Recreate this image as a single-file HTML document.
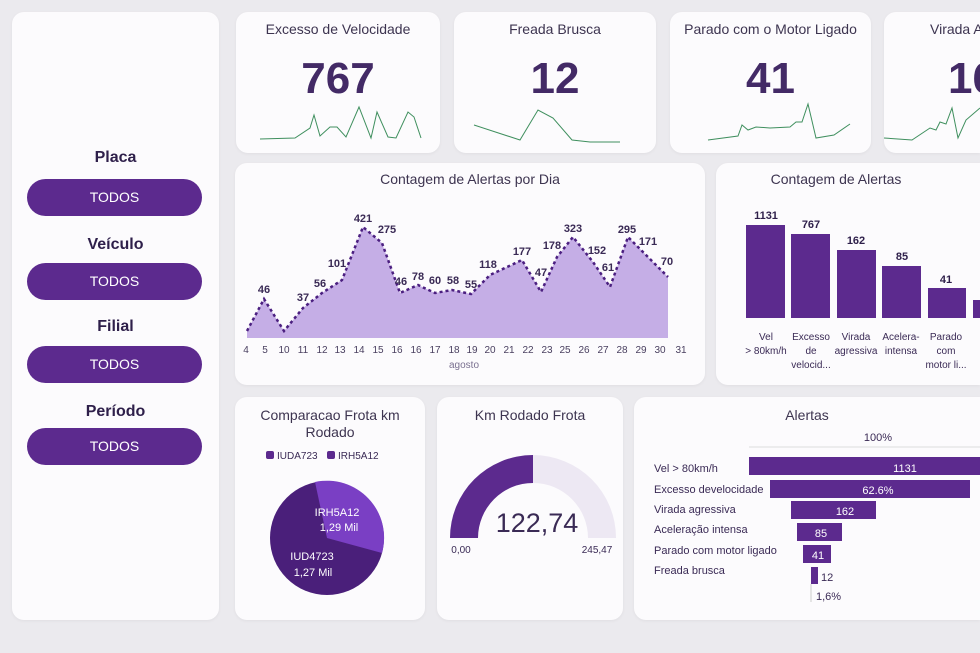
<!DOCTYPE html>
<html><head><meta charset="utf-8"><style>
*{margin:0;padding:0;box-sizing:border-box}
html,body{width:980px;height:653px;overflow:hidden}
body{background:#ebeaee;font-family:"Liberation Sans",sans-serif;position:relative;color:#3a2a55}
.c{position:absolute;background:#fcfbfd;border-radius:12px;box-shadow:0 1px 3px rgba(0,0,0,.05);overflow:hidden}
.t{position:absolute;font-size:14px;color:#3d3450;text-align:center;width:100%;white-space:nowrap}
.big{position:absolute;width:100%;text-align:center;font-size:44px;font-weight:bold;color:#432a66;top:42px;white-space:nowrap}
.lbl{position:absolute;left:0;width:231px;text-align:center;font-size:16px;font-weight:bold;color:#2e1f4a}
.btn{position:absolute;left:27px;width:175px;height:37px;border-radius:19px;background:#5c2a8e;color:#fff;font-size:14px;text-align:center;line-height:37px}
svg{position:absolute;left:0;top:0}
</style></head><body>
<div class="c" style="left:12px;top:12px;width:207px;height:608px"></div>
<div class="lbl" style="top:149px">Placa</div><div class="btn" style="top:179px">TODOS</div>
<div class="lbl" style="top:236px">Veículo</div><div class="btn" style="top:263px">TODOS</div>
<div class="lbl" style="top:318px">Filial</div><div class="btn" style="top:346px">TODOS</div>
<div class="lbl" style="top:403px">Período</div><div class="btn" style="top:428px">TODOS</div>

<div class="c" style="left:236px;top:12px;width:204px;height:141px"><div class="t" style="top:9px">Excesso de Velocidade</div><div class="big">767</div></div>
<div class="c" style="left:454px;top:12px;width:202px;height:141px"><div class="t" style="top:9px">Freada Brusca</div><div class="big">12</div></div>
<div class="c" style="left:670px;top:12px;width:201px;height:141px"><div class="t" style="top:9px">Parado com o Motor Ligado</div><div class="big">41</div></div>
<div class="c" style="left:884px;top:12px;width:96px;height:141px;border-radius:12px 0 0 12px"><div class="t" style="top:9px;text-align:left;left:46px">Virada Agressiva</div><div class="big" style="text-align:left;left:64px">162</div></div>

<div class="c" style="left:235px;top:163px;width:470px;height:222px"><div class="t" style="top:8px">Contagem de Alertas por Dia</div></div>
<div class="c" style="left:716px;top:163px;width:264px;height:222px;border-radius:12px 0 0 12px"><div class="t" style="top:8px;width:240px">Contagem de Alertas</div></div>
<div class="c" style="left:235px;top:397px;width:190px;height:223px"><div class="t" style="top:10px;line-height:17px">Comparacao Frota km<br>Rodado</div></div>
<div class="c" style="left:437px;top:397px;width:186px;height:223px"><div class="t" style="top:10px">Km Rodado Frota</div></div>
<div class="c" style="left:634px;top:397px;width:346px;height:223px;border-radius:12px 0 0 12px"><div class="t" style="top:10px;width:346px">Alertas</div></div>

<svg width="980" height="653" font-family="Liberation Sans, sans-serif">
<g fill="none" stroke="#3f8f5e" stroke-width="1">
<polyline points="260,139 295,138 310,128 314,115 320,136 330,127 337,127 346,137 359,107 371,138 377,112 388,137 396,138 408,112 414,117 421,138"/>
<polyline points="474,125 520,140 538,110 553,118 572,140 590,142 620,142"/>
<polyline points="708,140 738,136 742,125 748,130 756,127 770,128 790,127 796,122 802,122 808,104 816,138 834,135 850,124"/>
<polyline points="884,138 912,140 930,128 936,130 940,122 946,124 952,108 958,138 966,120 980,108"/>
</g>
<polygon fill="#c5aee6" points="247,338 247,331 264,299 284,331 303,308 322,293 342,280 363,227 382,243 400,293 418,285 435,293 452,290 471,294 490,275 522,260 541,292 557,257 573,237 593,262 610,287 628,237 648,257 668,277 668,338"/>
<polyline fill="none" stroke="#4b1f80" stroke-width="2.5" stroke-dasharray="3,3" points="247,331 264,299 284,331 303,308 322,293 342,280 363,227 382,243 400,293 418,285 435,293 452,290 471,294 490,275 522,260 541,292 557,257 573,237 593,262 610,287 628,237 648,257 668,277"/>
<g font-size="11" font-weight="bold" fill="#3a2a55" text-anchor="middle">
<text x="264" y="293">46</text><text x="303" y="301">37</text><text x="320" y="287">56</text><text x="337" y="267">101</text><text x="363" y="222">421</text><text x="387" y="233">275</text><text x="401" y="285">46</text><text x="418" y="280">78</text><text x="435" y="284">60</text><text x="453" y="284">58</text><text x="471" y="288">55</text><text x="488" y="268">118</text><text x="522" y="255">177</text><text x="541" y="276">47</text><text x="552" y="249">178</text><text x="573" y="232">323</text><text x="597" y="254">152</text><text x="608" y="271">61</text><text x="627" y="233">295</text><text x="648" y="245">171</text><text x="667" y="265">70</text></g>
<g font-size="10" fill="#4a4060" text-anchor="middle">
<text x="246" y="353">4</text><text x="265" y="353">5</text><text x="284" y="353">10</text><text x="303" y="353">11</text><text x="322" y="353">12</text><text x="340" y="353">13</text><text x="359" y="353">14</text><text x="378" y="353">15</text><text x="397" y="353">16</text><text x="416" y="353">16</text><text x="435" y="353">17</text><text x="454" y="353">18</text><text x="472" y="353">19</text><text x="490" y="353">20</text><text x="509" y="353">21</text><text x="528" y="353">22</text><text x="547" y="353">23</text><text x="565" y="353">25</text><text x="584" y="353">26</text><text x="603" y="353">27</text><text x="622" y="353">28</text><text x="641" y="353">29</text><text x="660" y="353">30</text><text x="681" y="353">31</text>
<text x="464" y="368" fill="#7a7090">agosto</text></g>

<g fill="#5c2a8e"><rect x="746" y="225" width="39" height="93"/><rect x="791" y="234" width="39" height="84"/><rect x="837" y="250" width="39" height="68"/><rect x="882" y="266" width="39" height="52"/><rect x="928" y="288" width="38" height="30"/><rect x="973" y="300" width="7" height="18"/></g>
<g font-size="11" font-weight="bold" fill="#2e1f4a" text-anchor="middle"><text x="766" y="219">1131</text><text x="811" y="228">767</text><text x="856" y="244">162</text><text x="902" y="260">85</text><text x="946" y="283">41</text></g>
<g font-size="10" fill="#3a2a55" text-anchor="middle">
<text x="766" y="340">Vel</text><text x="766" y="354">&gt; 80km/h</text>
<text x="811" y="340">Excesso</text><text x="811" y="354">de</text><text x="811" y="368">velocid...</text>
<text x="856" y="340">Virada</text><text x="856" y="354">agressiva</text>
<text x="901" y="340">Acelera-</text><text x="901" y="354">intensa</text>
<text x="946" y="340">Parado</text><text x="946" y="354">com</text><text x="946" y="368">motor li...</text></g>

<rect x="266" y="451" width="8" height="8" rx="2" fill="#5c2a8e"/><text x="277" y="459" font-size="10" fill="#3a2a55">IUDA723</text>
<rect x="327" y="451" width="8" height="8" rx="2" fill="#5c2a8e"/><text x="338" y="459" font-size="10" fill="#3a2a55">IRH5A12</text>
<circle cx="327" cy="538" r="57" fill="#4a1f7a"/>
<path d="M327,538 L315,482 A57,57 0 0 1 382,553 Z" fill="#7a3fc4"/>
<g font-size="11" fill="#fff" text-anchor="middle"><text x="337" y="516">IRH5A12</text><text x="339" y="531">1,29 Mil</text><text x="312" y="560">IUD4723</text><text x="313" y="576">1,27 Mil</text></g>

<path d="M450,538 A83,83 0 0 1 616,538 L588,538 A55,55 0 0 0 478,538 Z" fill="#ede8f3"/>
<path d="M450,538 A83,83 0 0 1 533,455 L533,483 A55,55 0 0 0 478,538 Z" fill="#5c2a8e"/>
<text x="537" y="532" font-size="27" fill="#3a2a55" text-anchor="middle">122,74</text>
<text x="461" y="553" font-size="10" fill="#3a2a55" text-anchor="middle">0,00</text><text x="597" y="553" font-size="10" fill="#3a2a55" text-anchor="middle">245,47</text>

<text x="878" y="441" font-size="11" fill="#3a2a55" text-anchor="middle">100%</text>
<line x1="749" y1="447" x2="980" y2="447" stroke="#ddd"/>
<g fill="#5c2a8e"><rect x="749" y="457" width="231" height="18"/><rect x="770" y="480" width="200" height="18"/><rect x="791" y="501" width="85" height="18"/><rect x="797" y="523" width="45" height="18"/><rect x="803" y="545" width="28" height="18"/><rect x="811" y="567" width="7" height="17"/></g>
<line x1="811" y1="584" x2="811" y2="602" stroke="#ccc"/>
<g font-size="11" fill="#fff" text-anchor="middle"><text x="905" y="472">1131</text><text x="878" y="494">62.6%</text><text x="845" y="515">162</text><text x="821" y="537">85</text><text x="818" y="559">41</text></g>
<g font-size="11" fill="#3a2a55"><text x="821" y="581">12</text><text x="816" y="600">1,6%</text>
<text x="654" y="472">Vel &gt; 80km/h</text><text x="654" y="493">Excesso develocidade</text><text x="654" y="513">Virada agressiva</text><text x="654" y="533">Aceleração intensa</text><text x="654" y="554">Parado com motor ligado</text><text x="654" y="574">Freada brusca</text></g>
</svg>
</body></html>
